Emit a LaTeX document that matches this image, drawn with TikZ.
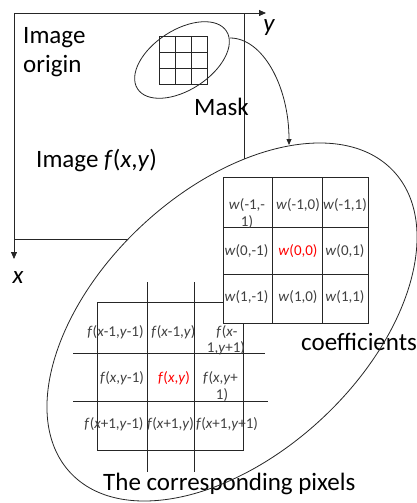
\documentclass[tikz,border=0pt]{standalone}
\usepackage{fontspec}
\setmainfont{Carlito}
\usetikzlibrary{arrows.meta}
\definecolor{linec}{HTML}{262626}
\definecolor{celltext}{HTML}{404040}
\definecolor{hotred}{HTML}{FF0000}
\begin{document}
\begin{tikzpicture}[x=1pt,y=1pt,
  ln/.style={draw=linec, line width=0.8pt},
  lbl/.style={inner sep=0pt, anchor=base west, font=\fontsize{25}{29}\selectfont, text=black},
  axl/.style={inner sep=0pt, anchor=base, font=\fontsize{25}{29}\selectfont\itshape, text=black},
  cell/.style={inner sep=0pt, anchor=base, font=\fontsize{15}{17}\selectfont, text=celltext},
  hot/.style={cell, text=hotred},
  axtip/.style={-{Triangle[length=7pt,width=6pt]}},
  cvtip/.style={-{Triangle[length=6pt,width=5pt]}}]
\useasboundingbox (0,0) rectangle (417,-503);

% image frame and axes
\coordinate (O) at (14,-13);
\coordinate (Yend) at (266,-13);
\coordinate (Xend) at (14,-259);
\coordinate (BR) at (244,-239);
\draw[ln] (O) rectangle (BR);
\draw[ln, axtip] (O) -- (Yend);
\draw[ln, axtip] (O) -- (Xend);
\node[axl] (ylab) at (269,-32) {y};
\node[axl] (xlab) at (18,-283) {x};

\node[lbl] (img1) at (23,-44) {Image};
\node[lbl] (img2) at (23,-72) {origin};
\node[lbl] (masklab) at (194,-115) {Mask};
\node[lbl] (imgf) at (36,-167) {Image \textit{f}(\textit{x},\textit{y})};

% mask ellipse and grid
\draw[ln, rotate around={33:(182,-60)}] (182,-60) ellipse [x radius=53pt, y radius=30pt];
\draw[ln] (159,-36) rectangle (207,-84);
\foreach \u in {175,191} \draw[ln] (\u,-36) -- (\u,-84);
\foreach \v in {52,68} \draw[ln] (159,-\v) -- (207,-\v);

% big ellipse fill
\fill[white, rotate around={43:(232,-322)}] (232,-322) ellipse [x radius=221pt, y radius=132pt];

% curved arrow
\coordinate (aS) at (230,-38);
\coordinate (aE) at (289,-145);
\draw[ln, cvtip] (aS) .. controls (262.6,-38) and (289,-86) .. (aE);

% pixel grid
\draw[ln] (97,-302) rectangle (243,-450);
\draw[ln] (147,-282) -- (147,-472);
\draw[ln] (194,-282) -- (194,-472);
\draw[ln] (73,-353) -- (265,-353);
\draw[ln] (73,-401) -- (268,-401);

\node[cell] (f11) at (115.5,-336) {\textit{f}(\textit{x}-1,\textit{y}-1)};
\node[cell] (f12) at (173.5,-336) {\textit{f}(\textit{x}-1,\textit{y})};
\node[cell] (f13a) at (227,-336) {\textit{f}(\textit{x}-};
\node[cell] (f13b) at (226,-352) {1,\textit{y}+1)};
\node[cell] (f21) at (122,-382) {\textit{f}(\textit{x},\textit{y}-1)};
\node[hot] (f22) at (174,-382) {\textit{f}(\textit{x},\textit{y})};
\node[cell] (f23a) at (220.5,-382) {\textit{f}(\textit{x},\textit{y}+};
\node[cell] (f23b) at (222,-399) {1)};
\node[cell] (f31) at (114,-428) {\textit{f}(\textit{x}+1,\textit{y}-1)};
\node[cell] (f32) at (170.5,-428) {\textit{f}(\textit{x}+1,\textit{y})};
\node[cell] (f33) at (227,-428) {\textit{f}(\textit{x}+1,\textit{y}+1)};

% coefficient table
\draw[ln, fill=white] (223,-177) rectangle (368,-323);
\draw[ln] (272,-177) -- (272,-323);
\draw[ln] (322,-177) -- (322,-323);
\draw[ln] (223,-227) -- (368,-227);
\draw[ln] (223,-274) -- (368,-274);

\node[cell] (w11a) at (247,-209) {\textit{w}(-1,-};
\node[cell] (w11b) at (247,-226) {1)};
\node[cell] (w12) at (298,-209) {\textit{w}(-1,0)};
\node[cell] (w13) at (345,-209) {\textit{w}(-1,1)};
\node[cell] (w21) at (246.5,-255) {\textit{w}(0,-1)};
\node[hot] (w22) at (298,-255) {\textit{w}(0,0)};
\node[cell] (w23) at (345,-255) {\textit{w}(0,1)};
\node[cell] (w31) at (246.5,-301) {\textit{w}(1,-1)};
\node[cell] (w32) at (298,-301) {\textit{w}(1,0)};
\node[cell] (w33) at (345,-301) {\textit{w}(1,1)};

\node[lbl] (coef) at (301,-350) {coefficients};
\node[lbl] (pix) at (103,-490) {The corresponding pixels};

% big ellipse outline
\draw[ln, rotate around={43:(232,-322)}] (232,-322) ellipse [x radius=221pt, y radius=132pt];
\end{tikzpicture}
\end{document}
